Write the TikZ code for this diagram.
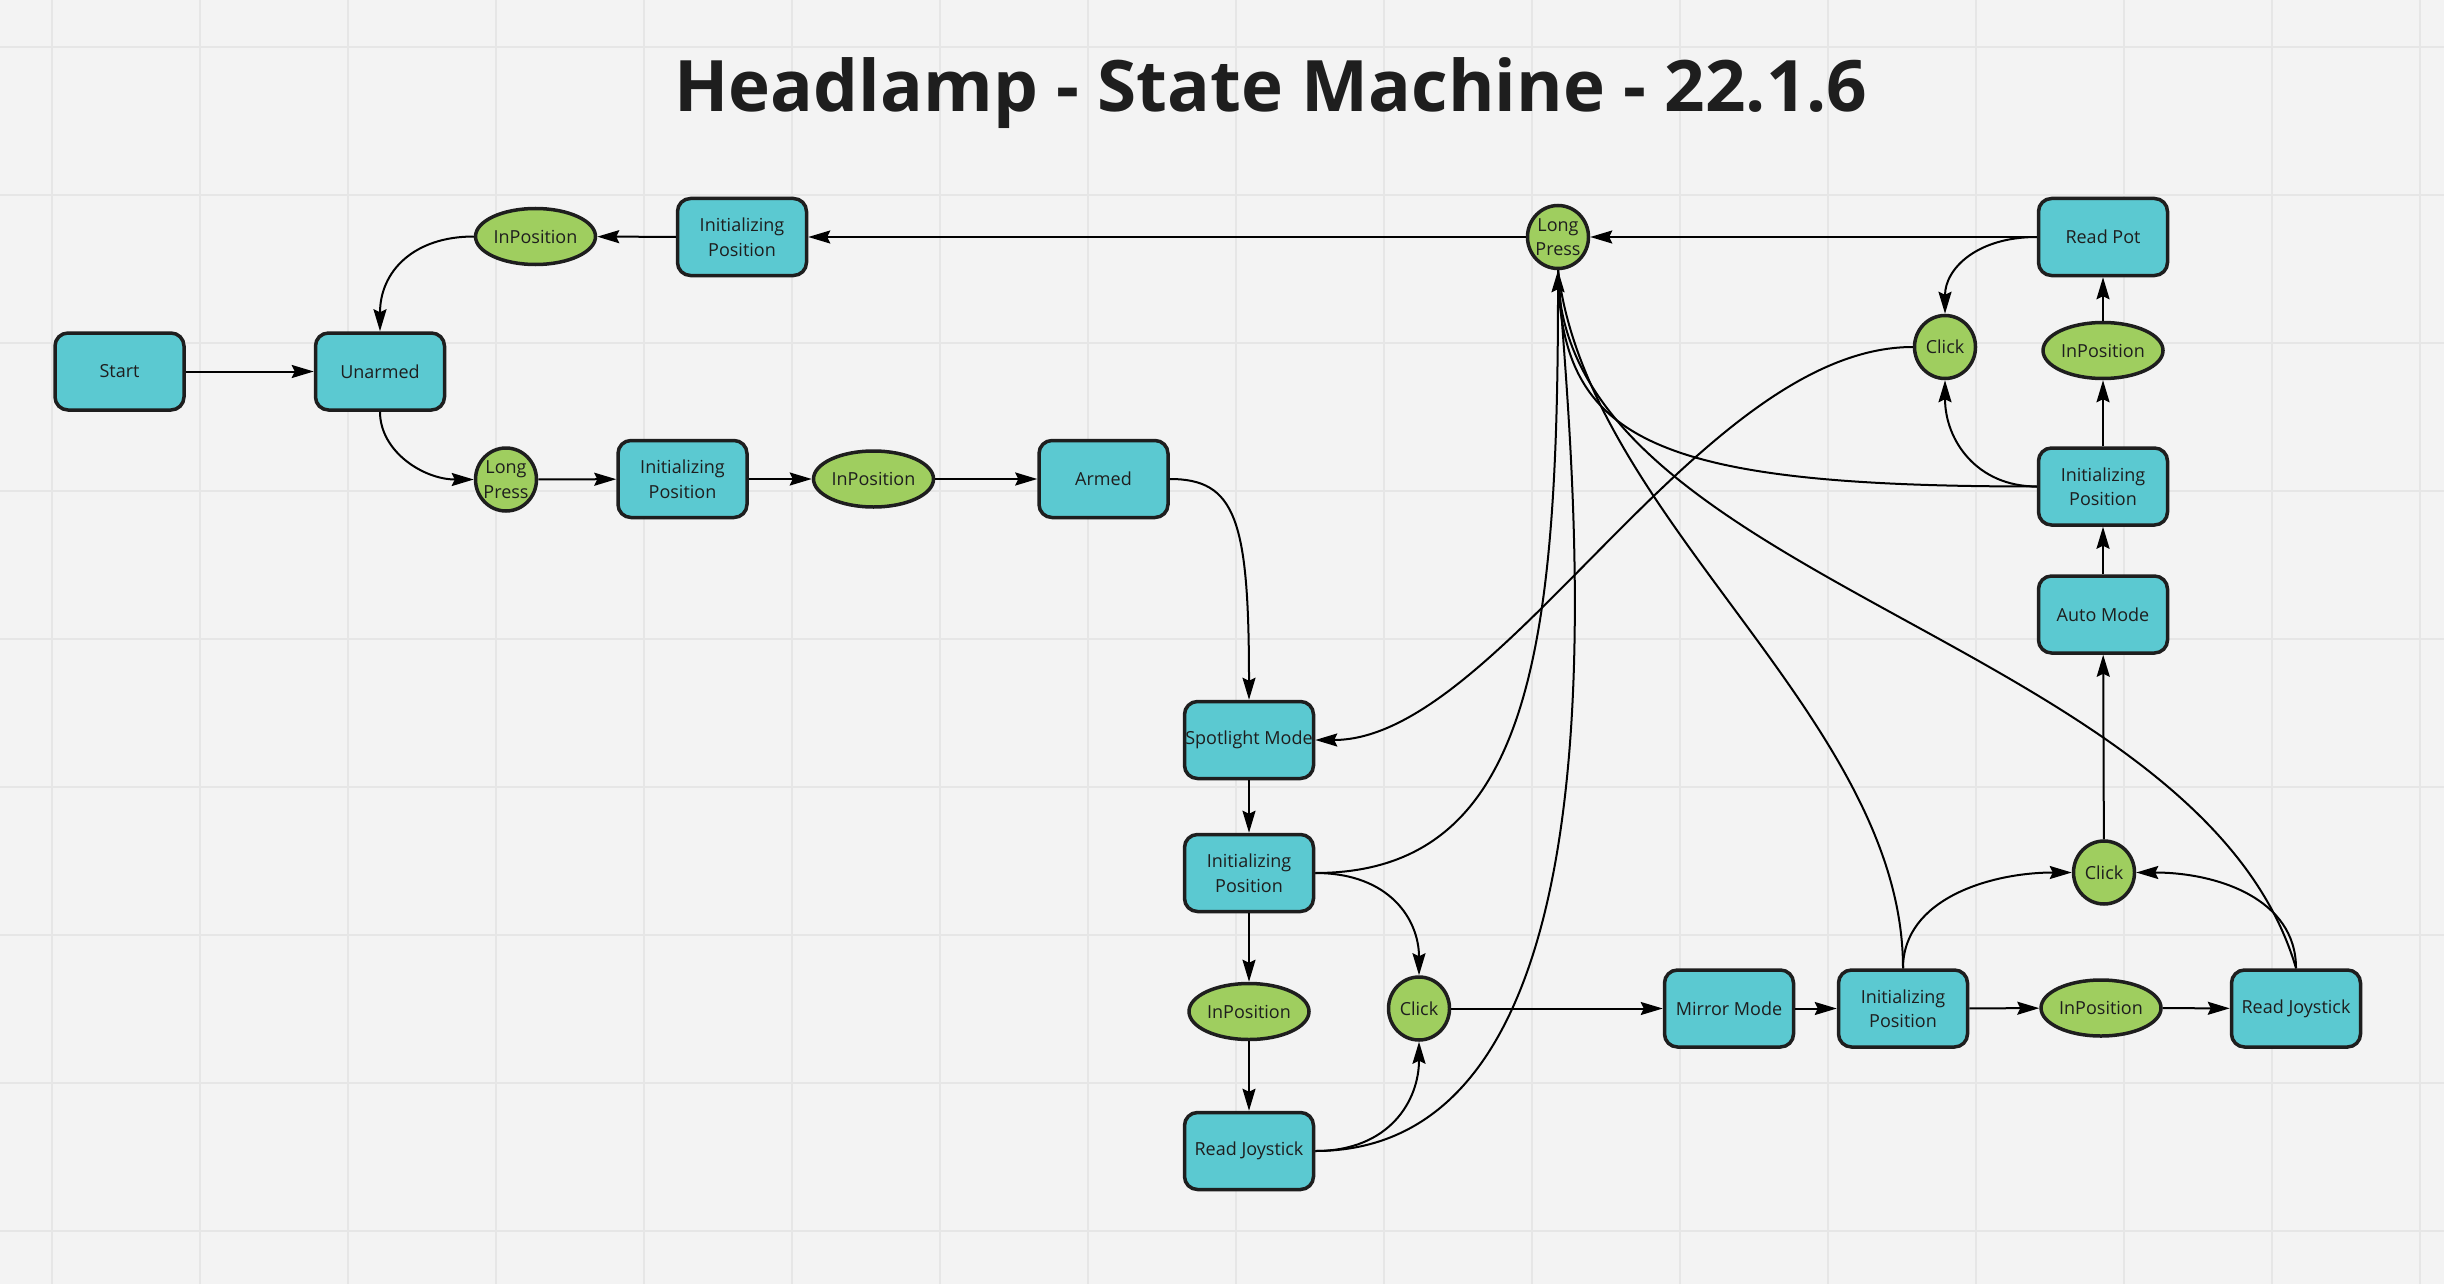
\documentclass[tikz,border=0pt]{standalone}
\usepackage{fontspec}
\setmainfont{Open Sans}
\usetikzlibrary{arrows.meta,shapes.geometric}
\definecolor{bgc}{HTML}{F3F3F3}
\definecolor{gridc}{HTML}{E6E6E6}
\definecolor{boxfill}{HTML}{5BC9D1}
\definecolor{leaf}{HTML}{9FCE5F}
\definecolor{edgec}{HTML}{1E1E1E}
\begin{document}
\begin{tikzpicture}[x=1pt,y=-1pt,
  gridline/.style={draw=gridc, line width=2pt},
  txt/.style={font=\fontsize{18}{24.5}\selectfont, text=edgec, align=center, inner sep=0pt},
  box/.style={draw=edgec, line width=3.5pt, fill=boxfill, rounded corners=13pt,
    minimum width=129pt, minimum height=77pt, inner sep=0pt, align=center,
    font=\fontsize{18}{24.5}\selectfont, text=edgec},
  evt/.style={ellipse, draw=edgec, line width=3.5pt, fill=leaf,
    minimum width=120pt, minimum height=56pt, inner sep=0pt},
  dot/.style={ellipse, draw=edgec, line width=3.5pt, fill=leaf,
    minimum width=61pt, minimum height=63pt, inner sep=0pt},
  con/.style={draw=black, line width=2pt, -{Stealth[length=22pt,width=13pt,inset=3pt]}},
  ln/.style={draw=black, line width=2pt}
]
\fill[bgc] (0,0) rectangle (2444,1284);
\useasboundingbox (0,0) rectangle (2444,1284);
\foreach \gx in {52,200,...,2420} \draw[gridline] (\gx,0) -- (\gx,1284);
\foreach \gy in {47,195,...,1231} \draw[gridline] (0,\gy) -- (2444,\gy);

\node[anchor=base, font=\bfseries\fontsize{71}{85}\selectfont, text=edgec, inner sep=0pt] (title) at (1271,112) {Headlamp - State Machine - 22.1.6};

% nodes
\node[box] (start) at (119.5,371.5) {Start};
\node[box] (unarmed) at (380,371.5) {Unarmed};
\node[box] (ipTop) at (742,237) {Initializing\\Position};
\node[evt, label={[txt]center:InPosition}] (inposTop) at (535.5,236.5) {};
\node[dot, label={[txt]center:{Long\\Press}}] (lpLeft) at (506,479.5) {};
\node[box] (ipRow) at (682.5,479) {Initializing\\Position};
\node[evt, label={[txt]center:InPosition}] (inposRow) at (873.5,479) {};
\node[box] (armed) at (1103.5,479) {Armed};
\node[dot, label={[txt]center:{Long\\Press}}] (lpTop) at (1558,237) {};
\node[box] (readpot) at (2103,237) {Read Pot};
\node[dot, label={[txt]center:Click}] (clickUp) at (1945,347) {};
\node[evt, label={[txt]center:InPosition}] (inposR) at (2103,350.5) {};
\node[box] (ipR) at (2103,486.5) {Initializing\\Position};
\node[box] (auto) at (2103,614.5) {Auto Mode};
\node[box] (spot) at (1249,740) {Spotlight Mode};
\node[box] (ipMid) at (1249,873) {Initializing\\Position};
\node[evt, label={[txt]center:InPosition}] (inposMid) at (1249,1011.5) {};
\node[box] (rjB) at (1249,1151) {Read Joystick};
\node[dot, label={[txt]center:Click}] (clickMid) at (1419,1008.5) {};
\node[box] (mirror) at (1729,1008.5) {Mirror Mode};
\node[box] (ipBR) at (1903,1008.5) {Initializing\\Position};
\node[evt, label={[txt]center:InPosition}] (inposBR) at (2101,1008) {};
\node[box] (rjR) at (2296,1008.5) {Read Joystick};
\node[dot, label={[txt]center:Click}] (clickLR) at (2104,872.5) {};

% connectors
\draw[con] (start) -- (unarmed);
\draw[con] (ipTop) -- (inposTop);
\draw[con] (inposTop.west) .. controls +(-60,0) and +(0,-60) .. (unarmed.north);
\draw[con] (unarmed.south) .. controls +(0,40) and +(-50,0) .. (lpLeft.west);
\draw[con] (lpLeft) -- (ipRow);
\draw[con] (ipRow) -- (inposRow);
\draw[con] (inposRow) -- (armed);
\draw[con] (armed.east) .. controls +(66,0) and +(0,-180) .. (spot.north);
\draw[con] (lpTop) -- (ipTop);
\draw[con] (readpot) -- (lpTop);
\draw[con] (readpot.west) .. controls +(-60,0) and +(0,-45) .. (clickUp.north);
\draw[con] (ipR.west) .. controls +(-60,0) and +(0,60) .. (clickUp.south);
\draw[con] (ipR) -- (inposR);
\draw[con] (inposR) -- (readpot);
\draw[con] (auto) -- (ipR);
\draw[con] (clickLR) -- (auto);
\draw[con] (ipBR.north) .. controls +(0,-70) and +(-80,0) .. (clickLR.west);
\draw[con] (rjR.north) .. controls +(0,-70) and +(80,0) .. (clickLR.east);
\draw[con] (mirror) -- (ipBR);
\draw[con] (ipBR) -- (inposBR);
\draw[con] (inposBR) -- (rjR);
\draw[con] (clickMid) -- (mirror);
\draw[con] (spot) -- (ipMid);
\draw[con] (ipMid) -- (inposMid);
\draw[con] (inposMid) -- (rjB);
\draw[con] (ipMid.east) .. controls +(75,0) and +(0,-55) .. (clickMid.north);
\draw[con] (rjB.east) .. controls +(75,0) and +(0,58) .. (clickMid.south);
\draw[con] (clickUp.west) .. controls +(-213,0) and +(185,0) .. (spot.east);
% lines converging on the upper Long Press
\draw[ln] (ipR.west) .. controls +(-386,0) and +(2,170) .. (lpTop.south);
\draw[ln] (rjB.east) .. controls +(325,0) and +(17,230) .. (lpTop.south);
\draw[ln] (ipBR.north) .. controls +(0,-250) and +(30,250) .. (lpTop.south);
\draw[ln] (rjR.north) .. controls +(-96,-328) and +(0,310) .. (lpTop.south);
\draw[con] (ipMid.east) .. controls +(215,0) and +(0,380) .. (lpTop.south);
\end{tikzpicture}
\end{document}
